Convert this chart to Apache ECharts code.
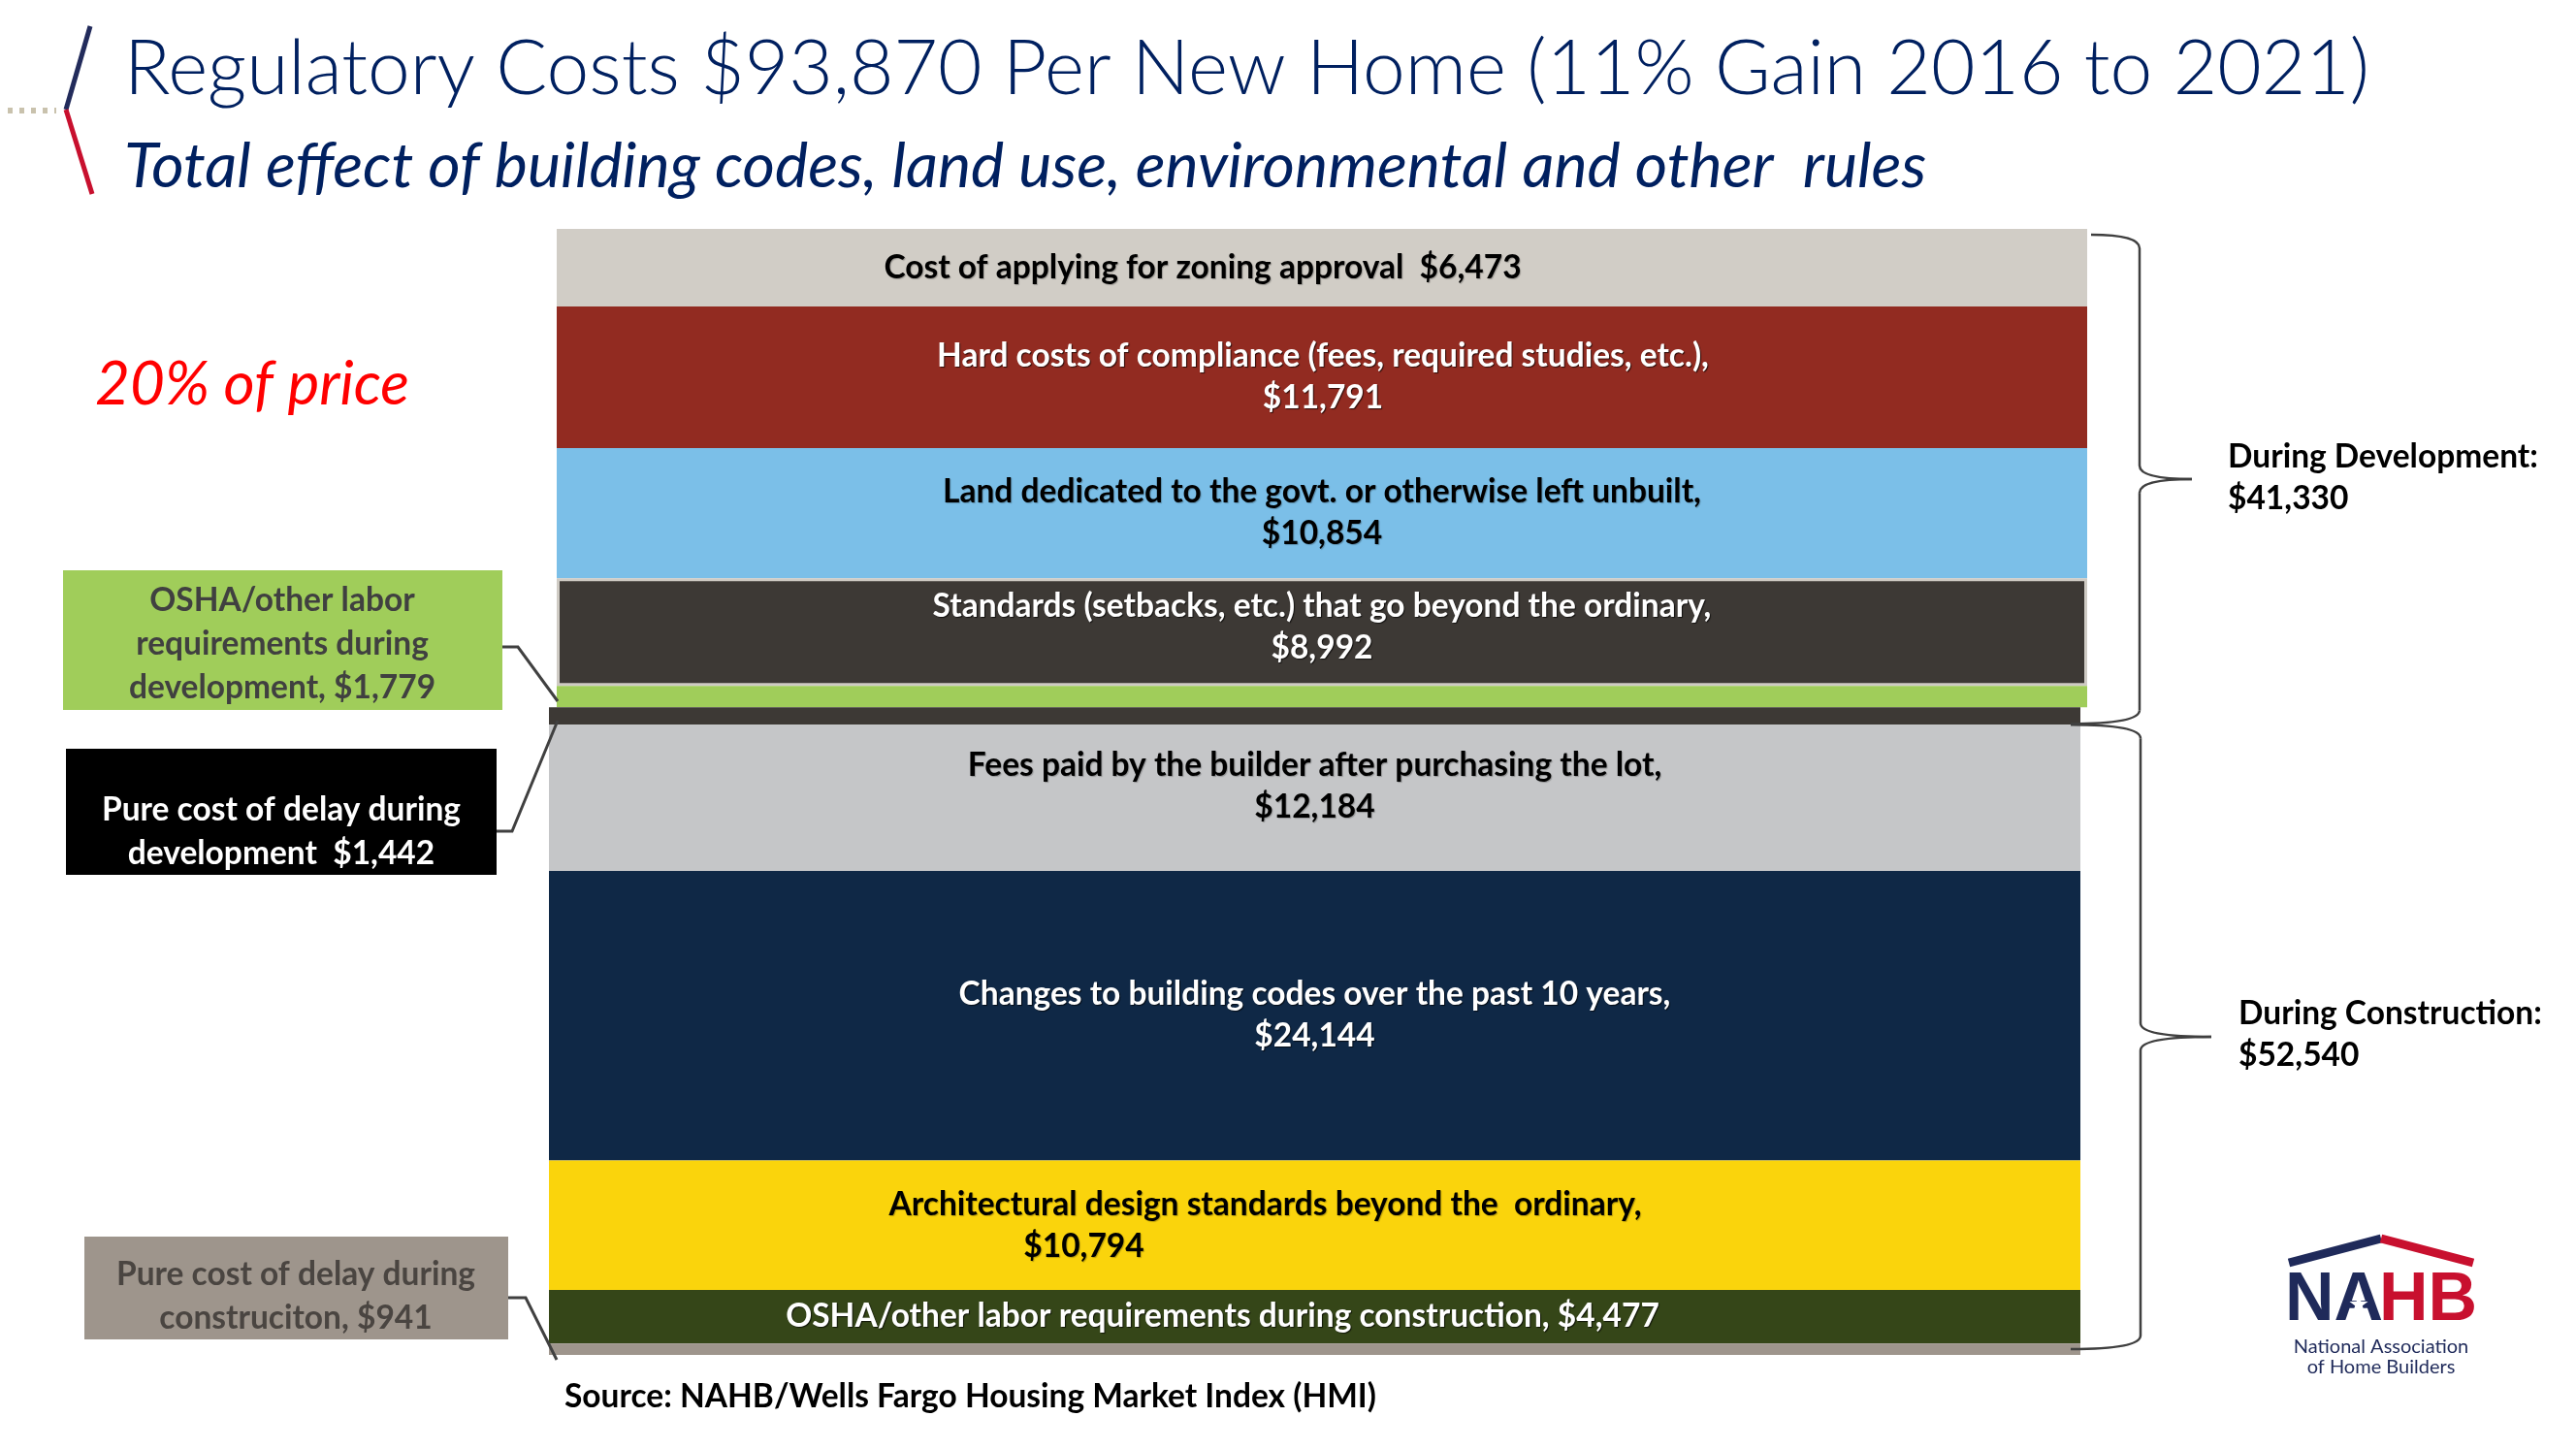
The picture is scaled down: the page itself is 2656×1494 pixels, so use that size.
<!DOCTYPE html>
<html>
<head>
<meta charset="utf-8">
<title>Regulatory Costs Per New Home</title>
<script src="https://cdn.jsdelivr.net/npm/echarts@6/dist/echarts.min.js"></script>
<style>
html, body { margin: 0; padding: 0; background: #fff; }
#main { width: 2656px; height: 1494px; }
</style>
</head>
<body>
<div id="main"></div>
<script>
// ---- data (top to bottom of the bar) ----
var segNames = [
	'Cost of applying for zoning approval',
	'Hard costs of compliance',
	'Land dedicated to the govt. or otherwise left unbuilt',
	'Standards that go beyond the ordinary',
	'OSHA/other labor requirements during development',
	'Pure cost of delay during development',
	'Fees paid by the builder after purchasing the lot',
	'Changes to building codes over the past 10 years',
	'Architectural design standards beyond the ordinary',
	'OSHA/other labor requirements during construction',
	'Pure cost of delay during construction'
];
var segValues = [6473, 11791, 10854, 8992, 1779, 1442, 12184, 24144, 10794, 4477, 941];
var segPhase = ['dev', 'dev', 'dev', 'dev', 'dev', 'dev', 'con', 'con', 'con', 'con', 'con'];
var segLabels = [
	'Cost of applying for zoning approval  $6,473',
	'Hard costs of compliance (fees, required studies, etc.),\n$11,791',
	'Land dedicated to the govt. or otherwise left unbuilt,\n$10,854',
	'Standards (setbacks, etc.) that go beyond the ordinary,\n$8,992',
	'',
	'',
	'Fees paid by the builder after purchasing the lot,\n$12,184',
	'Changes to building codes over the past 10 years,\n$24,144',
	'Architectural design standards beyond the  ordinary,\n$10,794',
	'OSHA/other labor requirements during construction, $4,477',
	''
];
var calloutTexts = [
	'OSHA/other labor\nrequirements during\ndevelopment, $1,779',
	'Pure cost of delay during\ndevelopment  $1,442',
	'Pure cost of delay during\nconstruciton, $941'
];
var phaseNames = ['During Development:', 'During Construction:'];
var phaseTotals = ['$41,330', '$52,540'];

var titleText = 'Regulatory Costs $93,870 Per New Home (11% Gain 2016 to 2021)';
var subtitleText = 'Total effect of building codes, land use, environmental and other  rules';
var priceNote = '20% of price';
var sourceText = 'Source: NAHB/Wells Fargo Housing Market Index (HMI)';

// ---- styles ----
var FONT = 'Lato, "Open Sans", sans-serif';
var NAVY = '#002060';
var LABEL_SIZE = 33.5;
var segColors = ['#D1CDC6', '#922B21', '#7BBFE8', '#3D3935', '#A0CD5A', '#3D3935',
	'#C5C6C8', '#0F2846', '#FAD40C', '#354618', '#9E958C'];
var segTextColors = ['#000', '#fff', '#000', '#fff', '#000', '#fff', '#000', '#fff', '#000', '#fff', '#000'];
var labelOffsets = [[-123, 0], [1, 0], [0, 0], [0, -5], [0, 0], [0, 0], [0, -12], [0, 0], [-51, 0], [-95, 0], [0, 0]];
var labelPad = [0, 0, 0, 0, 0, 0, 0, 0, 374, 0, 0];
var upperCount = 5;   // first five pieces sit slightly to the right

var myChart;

function sum(arr, from, to) {
	var s = 0;
	for (var i = from; i < to; i++) { s += arr[i]; }
	return s;
}

function buildSeries() {
	var series = [];
	for (var i = 0; i < segValues.length; i++) {
		var col = i < upperCount ? 0 : 1;
		var txtStyle = {
			fontFamily: FONT, fontWeight: 'bold', fontSize: LABEL_SIZE, lineHeight: 43,
			color: segTextColors[i], align: 'center'
		};
		var label = {
			show: segLabels[i] !== '',
			position: 'inside',
			offset: labelOffsets[i],
			color: segTextColors[i],
			fontFamily: FONT, fontWeight: 'bold', fontSize: LABEL_SIZE, lineHeight: 43,
			textShadowColor: segTextColors[i] === '#fff' ? 'rgba(0,0,0,0.7)' : 'rgba(0,0,0,0.25)',
			textShadowBlur: 1, textShadowOffsetX: 1, textShadowOffsetY: 1,
			formatter: segLabels[i]
		};
		if (labelPad[i]) {
			var lines = segLabels[i].split('\n');
			label.formatter = '{t|' + lines[0] + '}\n{t|' + lines[1] + '}{pad| }';
			label.rich = {
				t: txtStyle,
				pad: { width: labelPad[i], fontSize: LABEL_SIZE, lineHeight: 43, align: 'center' }
			};
		}
		var item = { color: segColors[i] };
		if (i === 3) {
			item.borderColor = '#CFCBC4';
			item.borderWidth = 3;
		}
		series.push({
			name: segNames[i],
			type: 'bar',
			stack: 'col' + col,
			xAxisIndex: col,
			yAxisIndex: col,
			barWidth: '100%',
			silent: true,
			itemStyle: item,
			label: label,
			data: [segValues[i]]
		});
	}
	return series;
}

function buildOption() {
	var total = sum(segValues, 0, segValues.length);
	var shift = sum(segValues, 0, upperCount);
	return {
		animation: false,
		backgroundColor: '#fff',
		grid: [
			{ left: 574, top: 236, width: 1578, height: 1161 },
			{ left: 566, top: 236, width: 1579, height: 1161 }
		],
		xAxis: [
			{ type: 'category', gridIndex: 0, data: ['cost'], show: false },
			{ type: 'category', gridIndex: 1, data: ['cost'], show: false }
		],
		yAxis: [
			{ type: 'value', gridIndex: 0, min: 0, max: total, inverse: true, show: false, splitLine: { show: false } },
			{ type: 'value', gridIndex: 1, min: -shift, max: total - shift, inverse: true, show: false, splitLine: { show: false } }
		],
		series: buildSeries()
	};
}

function textEl(txt, x, y, size, color, extra) {
	var st = {
		text: txt, fill: color, fontFamily: FONT, fontSize: size,
		fontWeight: 'bold', align: 'center', verticalAlign: 'middle'
	};
	for (var k in extra) { st[k] = extra[k]; }
	return { type: 'text', x: x, y: y, z: 100, style: st };
}

function lineEl(pts, color, w) {
	return { type: 'polyline', z: 100, shape: { points: pts }, style: { stroke: color, lineWidth: w, fill: null } };
}

function braceEls(xTop, xBot, xv, xm, y0, y1) {
	var ym = (y0 + y1) / 2, r = 14;
	var st = { stroke: '#3F3F3F', lineWidth: 2.5, fill: null };
	return [
		{ type: 'bezierCurve', z: 100, shape: { x1: xTop, y1: y0, cpx1: xv, cpy1: y0, x2: xv, y2: y0 + r }, style: st },
		{ type: 'line', z: 100, shape: { x1: xv, y1: y0 + r, x2: xv, y2: ym - r }, style: st },
		{ type: 'bezierCurve', z: 100, shape: { x1: xv, y1: ym - r, cpx1: xv, cpy1: ym, x2: xm, y2: ym }, style: st },
		{ type: 'bezierCurve', z: 100, shape: { x1: xm, y1: ym, cpx1: xv, cpy1: ym, x2: xv, y2: ym + r }, style: st },
		{ type: 'line', z: 100, shape: { x1: xv, y1: ym + r, x2: xv, y2: y1 - r }, style: st },
		{ type: 'bezierCurve', z: 100, shape: { x1: xv, y1: y1 - r, cpx1: xv, cpy1: y1, x2: xBot, y2: y1 }, style: st }
	];
}

function starPoints(cx, cy, ro, ri) {
	var pts = [];
	for (var i = 0; i < 10; i++) {
		var a = -Math.PI / 2 + i * Math.PI / 5;
		var r = i % 2 ? ri : ro;
		pts.push([cx + r * Math.cos(a), cy + r * Math.sin(a)]);
	}
	return pts;
}

function buildGraphic() {
	var total = sum(segValues, 0, segValues.length);
	var devSum = 0;
	for (var i = 0; i < segValues.length; i++) {
		if (segPhase[i] === 'dev') { devSum += segValues[i]; }
	}
	var yTop = myChart.convertToPixel({ yAxisIndex: 0 }, 0);
	var yDev = myChart.convertToPixel({ yAxisIndex: 0 }, devSum);
	var yEnd = myChart.convertToPixel({ yAxisIndex: 0 }, total);

	var g = [];
	// header
	g.push(lineEl([[93, 27], [68, 113]], '#222B5B', 5));
	g.push(lineEl([[68, 113], [95, 200]], '#C8102E', 5));
	g.push({ type: 'line', z: 100, shape: { x1: 8, y1: 114, x2: 58, y2: 114 },
		style: { stroke: '#C9C2AD', lineWidth: 6, lineDash: [5, 7] } });
	g.push(textEl(titleText, 128, 72, 78.5, NAVY, { align: 'left', fontWeight: 300 }));
	g.push(textEl(subtitleText, 128, 172, 64.5, NAVY, { align: 'left', fontWeight: 'normal', fontStyle: 'italic' }));
	g.push(textEl(priceNote, 98, 397, 62, '#FF0000', { align: 'left', fontWeight: 'normal', fontStyle: 'italic' }));

	// call-out boxes on the left
	g.push({ type: 'rect', z: 90, shape: { x: 65, y: 588, width: 453, height: 144 }, style: { fill: '#A0CD5A' } });
	g.push(textEl(calloutTexts[0], 291, 664, LABEL_SIZE, '#404040', { lineHeight: 45 }));
	g.push(lineEl([[518, 667], [534, 667], [575, 723]], '#404040', 3));

	g.push({ type: 'rect', z: 90, shape: { x: 68, y: 772, width: 444, height: 130 }, style: { fill: '#000' } });
	g.push(textEl(calloutTexts[1], 290, 858, LABEL_SIZE, '#fff', { lineHeight: 45 }));
	g.push(lineEl([[512, 857], [528, 857], [575, 743]], '#404040', 3));

	g.push({ type: 'rect', z: 90, shape: { x: 87, y: 1275, width: 437, height: 106 }, style: { fill: '#9E958C' } });
	g.push(textEl(calloutTexts[2], 305, 1337, LABEL_SIZE, '#4A4541', { lineHeight: 45 }));
	g.push(lineEl([[524, 1338], [542, 1338], [574, 1402]], '#404040', 3));

	// braces and phase totals
	g = g.concat(braceEls(2156, 2135, 2206, 2260, yTop + 6, yDev - 1));
	g = g.concat(braceEls(2135, 2135, 2207, 2280, yDev, yEnd - 6));
	g.push(textEl(phaseNames[0] + '\n' + phaseTotals[0], 2297, (yTop + yDev) / 2 + 1, LABEL_SIZE, '#000', { align: 'left', lineHeight: 43 }));
	g.push(textEl(phaseNames[1] + '\n' + phaseTotals[1], 2308, (yDev + yEnd) / 2 - 5, LABEL_SIZE, '#000', { align: 'left', lineHeight: 43 }));

	// source
	g.push(textEl(sourceText, 582, 1440, LABEL_SIZE, '#000', { align: 'left' }));

	// NAHB logo
	g.push(lineEl([[2360, 1302], [2455, 1277]], '#1F2A5A', 9));
	g.push(lineEl([[2455, 1277], [2550, 1302]], '#C8102E', 9));
	g.push(textEl('NA', 2457, 1342, 70, '#1F2A5A', { align: 'right', fontFamily: '"Liberation Sans", Arial, sans-serif' }));
	g.push(textEl('HB', 2453, 1342, 70, '#C8102E', { align: 'left', fontFamily: '"Liberation Sans", Arial, sans-serif' }));
	g.push({ type: 'polygon', z: 110, shape: { points: starPoints(2432, 1345, 10, 4) }, style: { fill: '#fff' } });
	g.push(textEl('National Association\nof Home Builders', 2455, 1399, 20, '#1F2A5A', { fontWeight: 'normal', lineHeight: 21 }));
	return g;
}

function draw() {
	var domMain = document.getElementById('main');
	myChart = echarts.init(domMain);
	myChart.setOption(buildOption(), true);
	myChart.setOption({ graphic: buildGraphic() });
}

draw();
</script>
</body>
</html>
